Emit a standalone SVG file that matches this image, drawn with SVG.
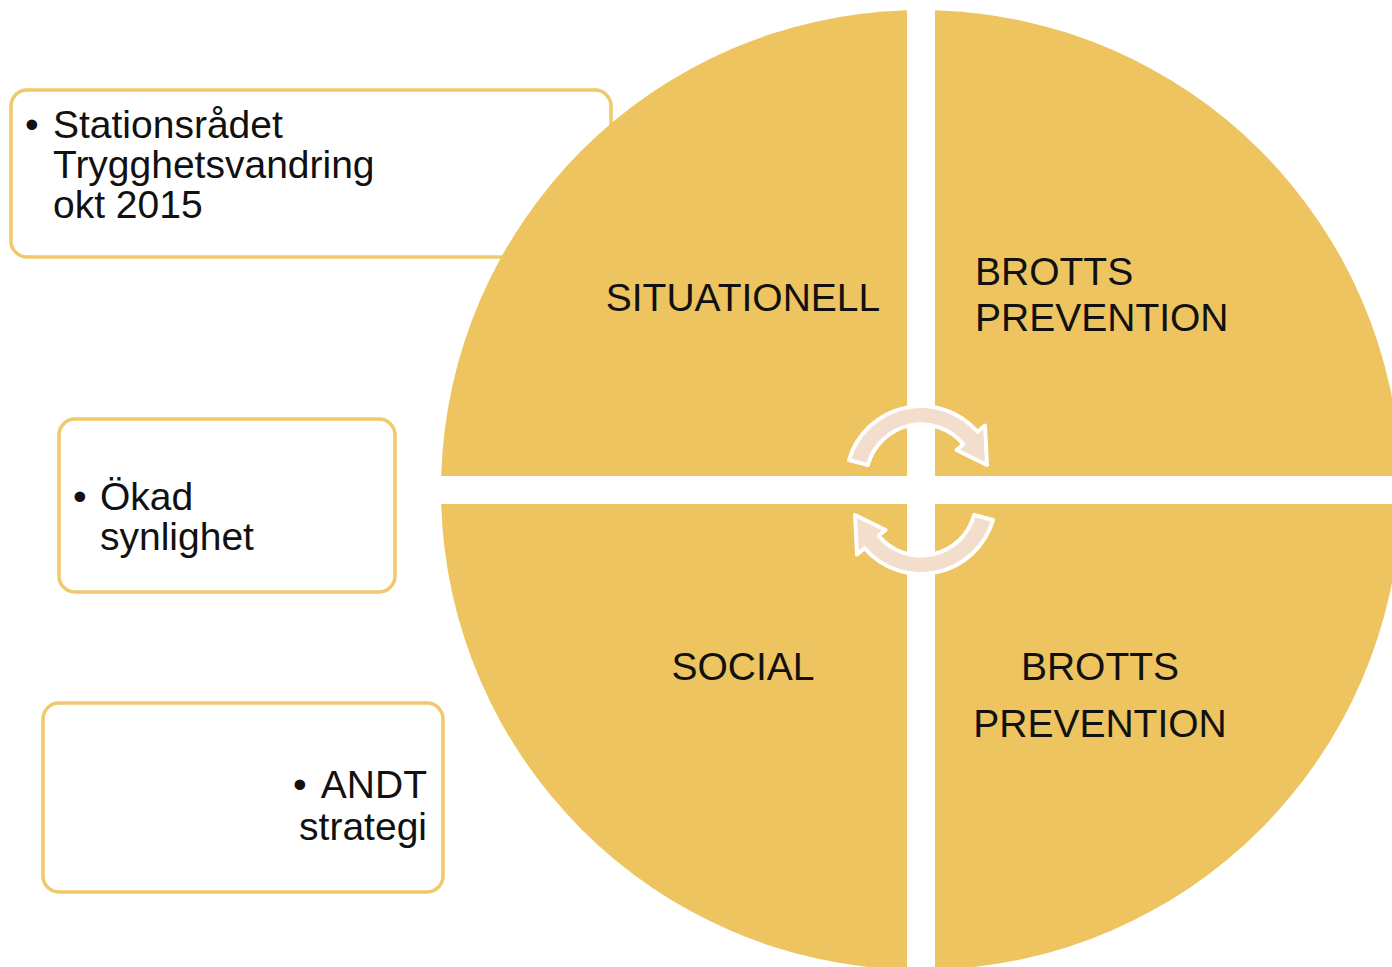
<svg xmlns="http://www.w3.org/2000/svg" width="1392" height="967" viewBox="0 0 1392 967">
<style>
.box{fill:#ffffff;stroke:#EFC96C;stroke-width:3.5}
.q{fill:#EDC45F}
.t{font-family:"Liberation Sans",Arial,sans-serif;font-size:39px;fill:#111111}
.arr{fill:#F3DDCD;stroke:#ffffff;stroke-width:4;stroke-linejoin:round}
</style>
<rect width="1392" height="967" fill="#ffffff"/>
<g id="box1">
<rect class="box" x="11" y="90" width="600" height="167" rx="16"/>
<text class="t" x="25" y="138">•</text>
<text class="t" x="53" y="138">Stationsrådet</text>
<text class="t" x="53" y="178">Trygghetsvandring</text>
<text class="t" x="53" y="218">okt 2015</text>
</g>
<g id="box2">
<rect class="box" x="59" y="419" width="336" height="173" rx="16"/>
<text class="t" x="73" y="510">•</text>
<text class="t" x="100" y="510">Ökad</text>
<text class="t" x="100" y="550">synlighet</text>
</g>
<g id="box3">
<rect class="box" x="43" y="703" width="400" height="189" rx="16"/>
<text class="t" x="293" y="798">•</text>
<text class="t" x="427" y="798" text-anchor="end">ANDT</text>
<text class="t" x="427" y="840" text-anchor="end">strategi</text>
</g>
<g id="q-situationell">
<path class="q" d="M907,476 L441.2,476 A480,480 0 0 1 907,10.2 Z"/>
<text class="t" x="743" y="311" text-anchor="middle">SITUATIONELL</text>
</g>
<g id="q-brotts-top">
<path class="q" d="M935,476 L935,10.2 A480,480 0 0 1 1400.8,476 Z"/>
<text class="t" x="975" y="285">BROTTS</text>
<text class="t" x="975" y="331">PREVENTION</text>
</g>
<g id="q-social">
<path class="q" d="M907,504 L907,969.8 A480,480 0 0 1 441.2,504 Z"/>
<text class="t" x="743" y="680" text-anchor="middle">SOCIAL</text>
</g>
<g id="q-brotts-bottom">
<path class="q" d="M935,504 L1400.8,504 A480,480 0 0 1 935,969.8 Z"/>
<text class="t" x="1100" y="680" text-anchor="middle">BROTTS</text>
<text class="t" x="1100" y="737" text-anchor="middle">PREVENTION</text>
</g>
<g id="connectors">
<path class="arr" d="M849,460 A75,75 0 0 1 977.5,431.8 L985,425.5 L987,465 L956.5,450 L963.4,444.3 A55,55 0 0 0 867.9,465 Z"/>
<path class="arr" transform="rotate(180 921 490)" d="M849,460 A75,75 0 0 1 977.5,431.8 L985,425.5 L987,465 L956.5,450 L963.4,444.3 A55,55 0 0 0 867.9,465 Z"/>
</g>
</svg>
